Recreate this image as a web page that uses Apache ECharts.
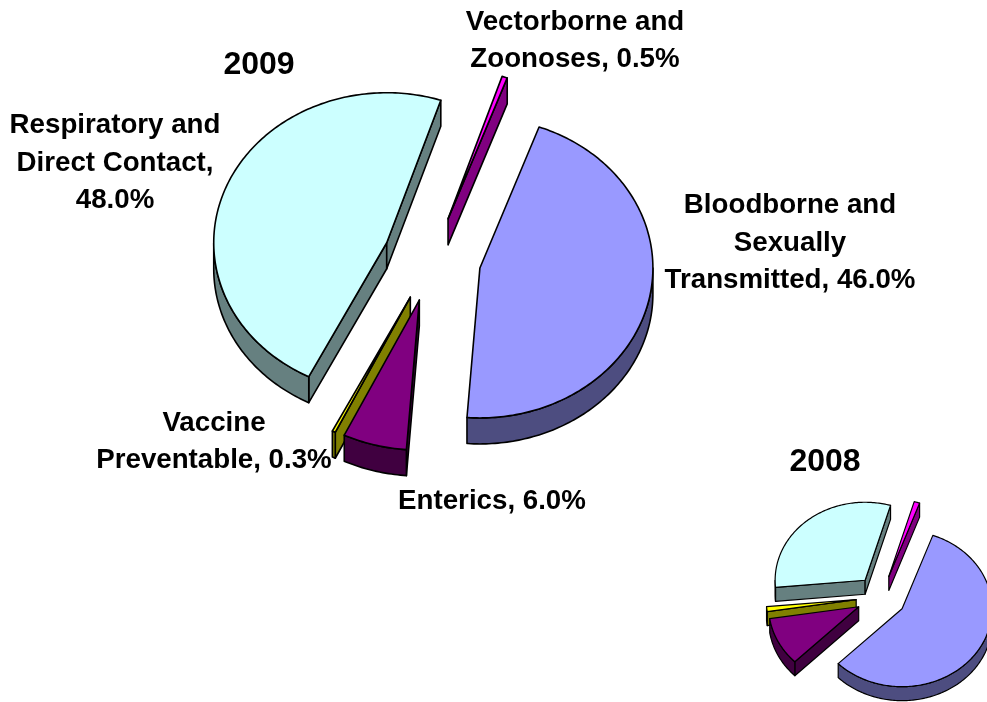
<!DOCTYPE html>
<html>
<head>
<meta charset="utf-8">
<title>2009 / 2008</title>
<style>
  html, body { margin: 0; padding: 0; background: #fff; }
  #chart { width: 987px; height: 702px; }
</style>
<script src="https://cdn.jsdelivr.net/npm/echarts@6/dist/echarts.min.js"></script>
</head>
<body>
<div id="chart"></div>
<script>
// clockwise from the first slice
const categories = ['Bloodborne and\nSexually\nTransmitted', 'Enterics', 'Vaccine\nPreventable', 'Respiratory and\nDirect Contact,', 'Vectorborne and\nZoonoses']
const values2009 = [46.0, 6.0, 0.3, 48.0, 0.5]
const values2008 = [57.0, 10.0, 1.0, 31.0, 1.0]

const topColors = ['#9999ff', '#800080', '#ffff00', '#ccffff', '#ff00ff']
const sideColors = ['#4d4d80', '#400040', '#808000', '#668080', '#800080']

const fontFamily = '"Liberation Sans", Arial, sans-serif'

function sumOf(list) {
  return list.reduce((a, b) => a + b, 0)
}

// one tilted, exploded pie drawn as a custom series
function pieSeries(values, pie) {
  const total = sumOf(values)
  const rad = deg => deg * Math.PI / 180
  const point = (c, deg) => [c[0] + pie.rx * Math.sin(rad(deg)), c[1] - pie.ry * Math.cos(rad(deg))]
  const lower = p => [p[0], p[1] + pie.depth]

  return {
    type: 'custom',
    coordinateSystem: 'none',
    silent: true,
    clip: false,
    data: values,
    renderItem(params, api) {
      const i = params.dataIndex
      const before = sumOf(values.slice(0, i))
      const start = pie.startAngle + before / total * 360
      const end = start + api.value(0) / total * 360
      const mid = rad((start + end) / 2)
      // explode along the middle of the slice
      const c = [
        pie.cx + pie.explode * Math.sin(mid),
        pie.cy - pie.explode * pie.ry / pie.rx * Math.cos(mid)
      ]
      const z2 = Math.round(-Math.cos(mid) * 100)
      const poly = (points, fill) => ({
        type: 'polygon',
        z2: z2,
        shape: { points: points },
        style: { fill: fill, stroke: '#000', lineWidth: pie.lineWidth, lineJoin: 'round' }
      })

      const children = []
      const side = sideColors[i]

      // walls on the two cut edges, only the ones facing the viewer
      if (Math.sin(rad(start)) < 0) {
        const p = point(c, start)
        children.push(poly([c, p, lower(p), lower(c)], side))
      }
      if (Math.sin(rad(end)) > 0) {
        const p = point(c, end)
        children.push(poly([c, p, lower(p), lower(c)], side))
      }

      // rim, front half of the ellipse (90..270)
      const rimStart = Math.max(start, 90)
      const rimEnd = Math.min(end, 270)
      if (rimEnd > rimStart) {
        const upper = []
        for (let a = rimStart; a < rimEnd; a += 1) upper.push(point(c, a))
        upper.push(point(c, rimEnd))
        children.push(poly(upper.concat(upper.map(lower).reverse()), side))
      }

      // top face
      const face = [c]
      for (let a = start; a < end; a += 1) face.push(point(c, a))
      face.push(point(c, end))
      children.push(poly(face, topColors[i]))

      return { type: 'group', children: children }
    }
  }
}

function labelText(i) {
  const name = categories[i]
  const sep = name.endsWith(',') ? '\n' : ', '
  return name + sep + values2009[i].toFixed(1) + '%'
}

function textEl(text, x, y, size, lineHeight) {
  return {
    type: 'text',
    x: x,
    y: y,
    z: 10,
    style: {
      text: text,
      fill: '#000',
      font: 'bold ' + size + 'px ' + fontFamily,
      lineHeight: lineHeight,
      align: 'center',
      verticalAlign: 'middle'
    }
  }
}

const chart = echarts.init(document.getElementById('chart'))
chart.setOption({
  animation: false,
  backgroundColor: '#fff',
  graphic: [
    textEl('2009', 259, 65, 32, 36),
    textEl('2008', 825, 462, 32, 36),
    textEl(labelText(0), 790, 243, 27.7, 37.5),
    textEl(labelText(1), 492, 501, 27.7, 37.5),
    textEl(labelText(2), 214, 442, 27.7, 37.5),
    textEl(labelText(3), 115, 163, 27.7, 37.5),
    textEl(labelText(4), 575, 41, 27.7, 37.5)
  ],
  series: [
    pieSeries(values2009, { cx: 432, cy: 259, rx: 173, ry: 150, depth: 26, explode: 49, startAngle: 20, lineWidth: 1.6 }),
    pieSeries(values2008, { cx: 881, cy: 597, rx: 90, ry: 78, depth: 14, explode: 25, startAngle: 20, lineWidth: 1.2 })
  ]
})
</script>
</body>
</html>
